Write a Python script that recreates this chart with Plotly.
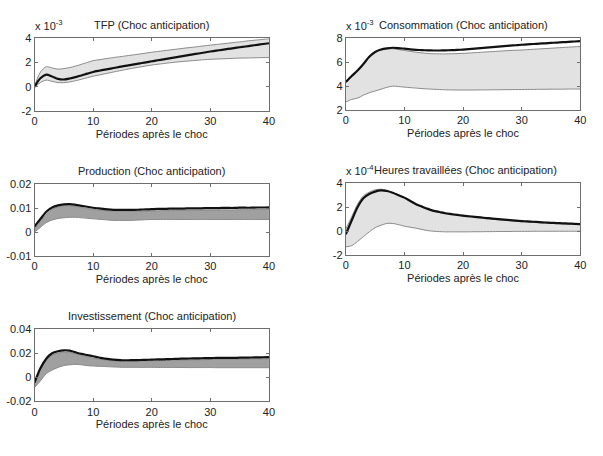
import plotly.graph_objects as go

periods = list(range(41))

tfp_mean = [0.0, 0.7, 1.0, 0.85, 0.65, 0.6, 0.68, 0.8, 0.93, 1.08, 1.22, 1.32, 1.41, 1.5, 1.59, 1.68, 1.76, 1.85, 1.93, 2.01, 2.1,
            2.18, 2.26, 2.34, 2.42, 2.5, 2.58, 2.66, 2.74, 2.82, 2.9, 2.97, 3.04, 3.11, 3.18, 3.25, 3.31, 3.38, 3.45, 3.52, 3.58]
tfp_up = [0.05, 1.2, 1.65, 1.55, 1.45, 1.5, 1.58, 1.7, 1.85, 2.0, 2.15, 2.22, 2.3, 2.37, 2.44, 2.5, 2.57, 2.63, 2.7, 2.77, 2.84,
          2.9, 2.96, 3.02, 3.08, 3.14, 3.2, 3.25, 3.31, 3.37, 3.42, 3.48, 3.53, 3.58, 3.64, 3.69, 3.75, 3.8, 3.85, 3.9, 3.95]
tfp_lo = [-0.05, 0.35, 0.55, 0.45, 0.35, 0.34, 0.4, 0.5, 0.62, 0.75, 0.87, 0.97, 1.07, 1.17, 1.27, 1.37, 1.46, 1.55, 1.63, 1.71, 1.79,
          1.85, 1.91, 1.97, 2.02, 2.07, 2.11, 2.15, 2.19, 2.23, 2.26, 2.28, 2.3, 2.32, 2.34, 2.36, 2.37, 2.38, 2.39, 2.4, 2.4]

cons_mean = [4.35, 4.85, 5.3, 5.85, 6.45, 6.85, 7.05, 7.15, 7.2, 7.17, 7.12, 7.07, 7.03, 7.0, 6.98, 6.97, 6.97, 6.98, 7.0, 7.02, 7.05,
             7.09, 7.13, 7.17, 7.21, 7.25, 7.29, 7.33, 7.37, 7.41, 7.45, 7.48, 7.51, 7.54, 7.57, 7.6, 7.63, 7.66, 7.69, 7.72, 7.75]
cons_up = [4.3, 4.8, 5.25, 5.8, 6.4, 6.8, 7.0, 7.1, 7.12, 7.05, 6.97, 6.9, 6.83, 6.77, 6.72, 6.7, 6.69, 6.69, 6.7, 6.71, 6.73,
           6.76, 6.79, 6.82, 6.85, 6.88, 6.91, 6.94, 6.97, 6.99, 7.01, 7.04, 7.07, 7.1, 7.13, 7.16, 7.19, 7.22, 7.25, 7.28, 7.3]
cons_lo = [2.68, 2.9, 3.0, 3.25, 3.45, 3.6, 3.75, 3.9, 4.0, 3.97, 3.92, 3.88, 3.84, 3.8, 3.77, 3.74, 3.72, 3.7, 3.69, 3.68, 3.68,
           3.68, 3.68, 3.69, 3.69, 3.7, 3.7, 3.71, 3.71, 3.72, 3.72, 3.73, 3.73, 3.74, 3.74, 3.75, 3.75, 3.75, 3.76, 3.76, 3.76]

prod_mean = [0.0024, 0.0055, 0.0085, 0.0103, 0.0112, 0.0116, 0.0117, 0.0114, 0.011, 0.0106, 0.0102, 0.0099, 0.0096, 0.0094, 0.0093,
             0.0093, 0.0093, 0.0093, 0.0094, 0.0095, 0.0096, 0.0097, 0.0097, 0.0098, 0.0098, 0.0098, 0.0099, 0.0099, 0.0099, 0.01,
             0.01, 0.01, 0.0101, 0.0101, 0.0101, 0.0102, 0.0102, 0.0102, 0.0103, 0.0103, 0.0104]
prod_up = [0.0012, 0.0045, 0.0075, 0.0095, 0.0105, 0.011, 0.011, 0.0107, 0.0103, 0.0099, 0.0095, 0.0092, 0.009, 0.0088, 0.0087,
           0.0087, 0.0087, 0.0087, 0.0088, 0.0088, 0.0089, 0.0089, 0.009, 0.009, 0.009, 0.0091, 0.0091, 0.0091, 0.0091, 0.0092,
           0.0092, 0.0092, 0.0093, 0.0093, 0.0093, 0.0094, 0.0094, 0.0094, 0.0095, 0.0095, 0.0095]
prod_lo = [0.0001, 0.002, 0.004, 0.0051, 0.0057, 0.006, 0.0062, 0.0062, 0.006, 0.0058, 0.0056, 0.0054, 0.0052, 0.005, 0.0049,
           0.0049, 0.0049, 0.005, 0.0051, 0.0052, 0.0053, 0.0053, 0.0053, 0.0053, 0.0053, 0.0053, 0.0053, 0.0053, 0.0053, 0.0053,
           0.0053, 0.0053, 0.0053, 0.0053, 0.0053, 0.0053, 0.0053, 0.0053, 0.0053, 0.0053, 0.0053]

hours_mean = [-0.25, 0.9, 2.0, 2.75, 3.1, 3.3, 3.4, 3.35, 3.2, 3.0, 2.8, 2.52, 2.25, 2.05, 1.86, 1.7, 1.6, 1.5, 1.43, 1.36, 1.3,
              1.25, 1.2, 1.15, 1.1, 1.05, 1.01, 0.97, 0.93, 0.89, 0.85, 0.82, 0.79, 0.76, 0.73, 0.7, 0.68, 0.66, 0.64, 0.62, 0.6]
hours_up = [0.2, 1.2, 2.25, 2.95, 3.25, 3.45, 3.5, 3.42, 3.22, 3.0, 2.75, 2.47, 2.2, 2.0, 1.81, 1.65, 1.55, 1.45, 1.38, 1.31, 1.25,
            1.2, 1.15, 1.1, 1.05, 1.0, 0.96, 0.92, 0.88, 0.84, 0.8, 0.77, 0.74, 0.71, 0.68, 0.65, 0.63, 0.61, 0.59, 0.57, 0.55]
hours_lo = [-1.3, -1.2, -0.85, -0.45, -0.05, 0.3, 0.5, 0.65, 0.65, 0.55, 0.42, 0.33, 0.25, 0.15, 0.05, 0.0, -0.03, -0.05, -0.05,
            -0.05, -0.05, -0.05, -0.04, -0.04, -0.03, -0.03, -0.02, -0.02, -0.02, -0.01, -0.01, -0.01, 0.0, 0.0, 0.0, 0.0, 0.0,
            0.0, 0.0, 0.0, 0.0]

inv_mean = [-0.0045, 0.0075, 0.0155, 0.02, 0.0217, 0.0225, 0.0222, 0.0208, 0.0195, 0.0185, 0.0175, 0.0165, 0.0155, 0.0149, 0.0145,
            0.0142, 0.0142, 0.0143, 0.0144, 0.0145, 0.0147, 0.0149, 0.015, 0.0152, 0.0153, 0.0155, 0.0156, 0.0157, 0.0158, 0.0159,
            0.016, 0.0161, 0.0161, 0.0162, 0.0162, 0.0163, 0.0164, 0.0165, 0.0166, 0.0167, 0.0168]
inv_up = [-0.005, 0.006, 0.014, 0.0185, 0.0202, 0.021, 0.0208, 0.0195, 0.0182, 0.017, 0.016, 0.0151, 0.0143, 0.0138, 0.0135,
          0.0134, 0.0134, 0.0135, 0.0136, 0.0137, 0.0138, 0.0139, 0.014, 0.0141, 0.0142, 0.0143, 0.0144, 0.0145, 0.0146, 0.0147,
          0.0148, 0.0149, 0.015, 0.015, 0.0151, 0.0152, 0.0153, 0.0153, 0.0154, 0.0155, 0.0155]
inv_lo = [-0.0085, -0.003, 0.003, 0.006, 0.0082, 0.0097, 0.0104, 0.0107, 0.0104, 0.0097, 0.0094, 0.0092, 0.009, 0.0087, 0.0085,
          0.0083, 0.0083, 0.0083, 0.0083, 0.0083, 0.0083, 0.0082, 0.0082, 0.0082, 0.0082, 0.0082, 0.0081, 0.0081, 0.0081, 0.0081,
          0.0081, 0.008, 0.008, 0.008, 0.008, 0.008, 0.008, 0.008, 0.008, 0.008, 0.008]

titles = ["TFP (Choc anticipation)", "Consommation (Choc anticipation)", "Production (Choc anticipation)",
          "Heures travaillées (Choc anticipation)", "Investissement (Choc anticipation)"]
exponents = ["x 10<sup>-3</sup>", "x 10<sup>-3</sup>", None, "x 10<sup>-4</sup>", None]
x_ticks = [0, 10, 20, 30, 40]
y_ticks = [[-2, 0, 2, 4], [2, 4, 6, 8], [-0.01, 0, 0.01, 0.02], [-2, 0, 2, 4], [-0.02, 0, 0.02, 0.04]]
y_tick_text = [["-2", "0", "2", "4"], ["2", "4", "6", "8"], ["-0.01", "0", "0.01", "0.02"],
               ["-2", "0", "2", "4"], ["-0.02", "0", "0.02", "0.04"]]
x_label = "Périodes après le choc"

series = [(tfp_mean, tfp_up, tfp_lo), (cons_mean, cons_up, cons_lo), (prod_mean, prod_up, prod_lo),
          (hours_mean, hours_up, hours_lo), (inv_mean, inv_up, inv_lo)]
band_fill = ["#e2e2e2", "#e2e2e2", "#a0a0a0", "#e2e2e2", "#a0a0a0"]

W, H = 603, 456
# pixel boxes (left, right, top, bottom)
boxes = [(32, 270, 33, 108), (348, 586, 33, 107), (32, 270, 183, 257), (348, 586, 182, 256), (32, 270, 332, 406)]

FONT = "Liberation Sans, Arial, sans-serif"
fig = go.Figure()
annotations = []
for i, ((m, up, lo), box) in enumerate(zip(series, boxes)):
    n = i + 1
    xa = "x" if n == 1 else f"x{n}"
    ya = "y" if n == 1 else f"y{n}"
    fig.add_trace(go.Scatter(x=periods, y=lo, xaxis=xa, yaxis=ya, mode="lines",
                             line=dict(color="#8a8a8a", width=1, shape="spline", smoothing=0.8),
                             hoverinfo="skip", showlegend=False))
    fig.add_trace(go.Scatter(x=periods, y=up, xaxis=xa, yaxis=ya, mode="lines", fill="tonexty",
                             fillcolor=band_fill[i],
                             line=dict(color="#8a8a8a", width=1, shape="spline", smoothing=0.8),
                             hoverinfo="skip", showlegend=False))
    fig.add_trace(go.Scatter(x=periods, y=m, xaxis=xa, yaxis=ya, mode="lines",
                             line=dict(color="#111111", width=2.2, shape="spline", smoothing=0.8),
                             showlegend=False))
    l, r, t, b = box
    dom_x = [l / W, r / W]
    dom_y = [1 - b / H, 1 - t / H]
    yr = [y_ticks[i][0], y_ticks[i][-1]]
    ax_common = dict(showline=True, linecolor="#6e6e6e", linewidth=1, mirror="ticks", ticks="inside",
                     ticklen=3, tickcolor="#6e6e6e", showgrid=False, zeroline=False,
                     tickfont=dict(family=FONT, size=11, color="#222"))
    fig.update_layout(**{
        ("xaxis" if n == 1 else f"xaxis{n}"): dict(domain=dom_x, range=[0, 40], tickvals=x_ticks, anchor=ya,
                                                   title=dict(text=x_label, font=dict(family=FONT, size=11, color="#222"), standoff=3),
                                                   **ax_common),
        ("yaxis" if n == 1 else f"yaxis{n}"): dict(domain=dom_y, range=yr, tickvals=y_ticks[i], ticktext=y_tick_text[i],
                                                   anchor=xa, **ax_common),
    })
    annotations.append(dict(text=titles[i], xref="paper", yref="paper", x=(l + r) / 2 / W + (0.005 if n == 4 else 0),
                            y=1 - (t - 5) / H, xanchor="center", yanchor="bottom", showarrow=False,
                            font=dict(family=FONT, size=11, color="#222")))
    if exponents[i]:
        annotations.append(dict(text=exponents[i], xref="paper", yref="paper", x=(l - 2) / W,
                                y=1 - (t - 4) / H, xanchor="left", yanchor="bottom", showarrow=False,
                                font=dict(family=FONT, size=11, color="#222")))

fig.update_layout(width=W, height=H, margin=dict(l=0, r=0, t=0, b=0), paper_bgcolor="white",
                  plot_bgcolor="white", annotations=annotations, showlegend=False)
fig.write_html("out.html")
